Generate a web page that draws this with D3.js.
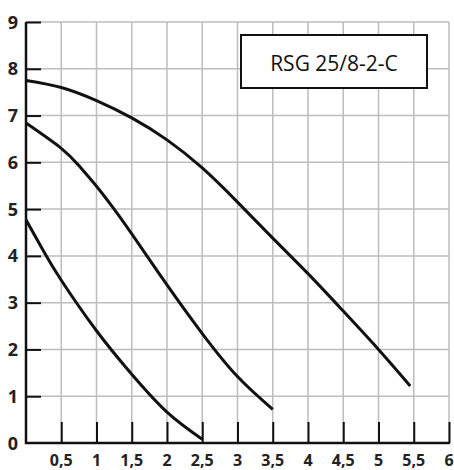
<!DOCTYPE html>
<html><head><meta charset="utf-8">
<script src="https://cdn.jsdelivr.net/npm/d3@7"></script>
<style>body{margin:0;background:#fff}svg{display:block}</style>
</head><body>
<script>
const title = "RSG 25/8-2-C";
const xTicks = [0.5,1,1.5,2,2.5,3,3.5,4,4.5,5,5.5,6];
const xTickLabels = ["0,5","1","1,5","2","2,5","3","3,5","4","4,5","5","5,5","6"];
const yTicks = [0,1,2,3,4,5,6,7,8,9];
const curveHigh = [[0,7.75],[0.5,7.6],[1,7.32],[1.5,6.95],[2,6.48],[2.5,5.88],[3,5.15],[3.5,4.38],[4,3.62],[4.5,2.82],[5,2.0],[5.45,1.22]];
const curveMid = [[0,6.84],[0.5,6.3],[0.75,5.93],[1,5.49],[1.25,5.0],[1.5,4.47],[2,3.38],[2.5,2.34],[3,1.42],[3.5,0.72]];
const curveLow = [[0,4.77],[0.25,4.1],[0.5,3.48],[1,2.4],[1.5,1.47],[2,0.66],[2.5,0.08]];

const W=454,H=470;
const x = d3.scaleLinear().domain([0,6]).range([26,449]);
const y = d3.scaleLinear().domain([0,9]).range([443,22]);
const svg = d3.select("body").append("svg").attr("width",W).attr("height",H);

// grid
const gridX = d3.range(0.5,6.01,0.5);
svg.append("g").selectAll("line").data(gridX).join("line")
  .attr("x1",d=>x(d)).attr("x2",d=>x(d)).attr("y1",y(9)).attr("y2",y(0))
  .attr("stroke","#bdbdbd").attr("stroke-width",1.5);
svg.append("g").selectAll("line").data(yTicks.filter(d=>d>0)).join("line")
  .attr("x1",x(0)).attr("x2",x(6)).attr("y1",d=>y(d)).attr("y2",d=>y(d))
  .attr("stroke","#bdbdbd").attr("stroke-width",1.5);

// axes
const xAxis = d3.axisTop(x).tickValues(xTicks).tickSize(21).tickFormat("");
const gx = svg.append("g").attr("transform",`translate(0,${y(0)})`).call(xAxis);
gx.select(".domain").remove();
gx.selectAll(".tick line").attr("stroke","#111").attr("stroke-width",2);
svg.append("g").selectAll("text").data(xTicks).join("text")
  .attr("x",d=>x(d)).attr("y",466).attr("text-anchor","middle")
  .attr("font-family","Open Sans").attr("font-weight","bold").attr("font-size",16)
  .attr("fill","#222").text((d,i)=>xTickLabels[i]);

const yAxis = d3.axisRight(y).tickValues(yTicks.filter(d=>d>0)).tickSize(15).tickFormat("");
const gy = svg.append("g").attr("transform",`translate(${x(0)},0)`).call(yAxis);
gy.select(".domain").remove();
gy.selectAll(".tick line").attr("stroke","#111").attr("stroke-width",2);
svg.append("g").selectAll("text").data(yTicks).join("text")
  .attr("x",13).attr("y",d=>y(d)+6.5).attr("text-anchor","middle")
  .attr("font-family","Open Sans").attr("font-weight","bold").attr("font-size",18)
  .attr("fill","#222").text(d=>d);

svg.append("line").attr("x1",x(0)).attr("x2",x(0)).attr("y1",y(9)).attr("y2",y(0)+1)
  .attr("stroke","#111").attr("stroke-width",2.5);
svg.append("line").attr("x1",x(0)-1).attr("x2",x(6)+1).attr("y1",y(0)).attr("y2",y(0))
  .attr("stroke","#111").attr("stroke-width",2.5);

// curves
const line = d3.line().x(d=>x(d[0])).y(d=>y(d[1])).curve(d3.curveNatural);
[curveHigh,curveMid,curveLow].forEach(c=>{
  svg.append("path").attr("d",line(c)).attr("fill","none")
    .attr("stroke","#111").attr("stroke-width",3);
});

// title box
svg.append("rect").attr("x",241).attr("y",35).attr("width",186).attr("height",53)
  .attr("fill","#fff").attr("stroke","#111").attr("stroke-width",2);
svg.append("text").attr("x",334).attr("y",71).attr("text-anchor","middle")
  .attr("font-family","Open Sans").attr("font-size",21).attr("fill","#111").text(title);
</script>
</body></html>
